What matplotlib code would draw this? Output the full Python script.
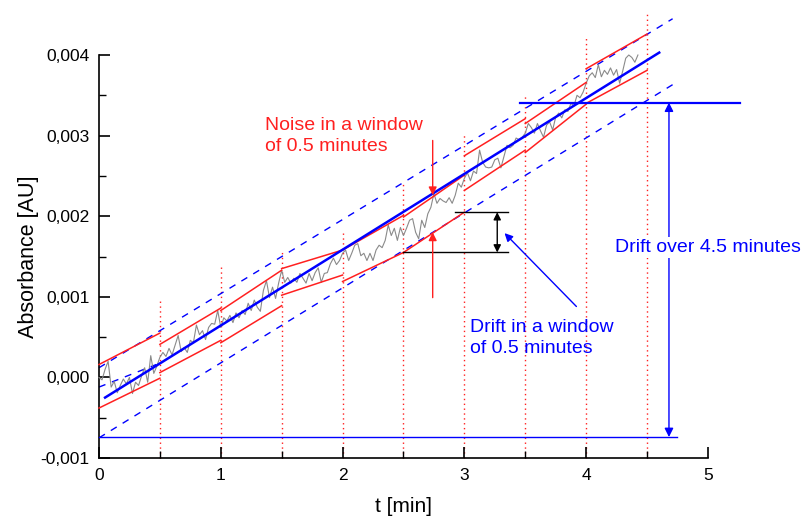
import numpy as np
import matplotlib
matplotlib.use("Agg")
import matplotlib.pyplot as plt
from matplotlib.ticker import MultipleLocator, FuncFormatter

plt.rcParams['font.family'] = ['Liberation Sans', 'DejaVu Sans']

# ---- signal (values in mAU, sampled every 0.025 min) ----
sample_step = 0.025
signal_mau = [
    0.00, -0.03, 0.10, 0.20, -0.12, -0.05, -0.19, -0.10, -0.02, -0.08,
    0.00, -0.20, -0.06, -0.10, 0.02, 0.12, -0.06, 0.27, 0.05, 0.14,
    0.25, 0.31, 0.26, 0.36, 0.28, 0.40, 0.52, 0.32, 0.37, 0.31,
    0.46, 0.43, 0.65, 0.53, 0.58, 0.47, 0.62, 0.67, 0.66, 0.83,
    0.62, 0.74, 0.70, 0.77, 0.68, 0.80, 0.74, 0.83, 0.78, 0.92,
    0.83, 0.96, 0.87, 0.82, 1.08, 1.20, 0.99, 1.12, 0.98, 1.17,
    1.33, 1.18, 1.24, 1.17, 1.23, 1.18, 1.29, 1.23, 1.17, 1.29,
    1.20, 1.30, 1.36, 1.18, 1.29, 1.30, 1.41, 1.48, 1.40, 1.45,
    1.54, 1.58, 1.45, 1.54, 1.64, 1.66, 1.51, 1.54, 1.45, 1.54,
    1.45, 1.58, 1.64, 1.61, 1.70, 1.89, 1.76, 1.85, 1.70, 1.86,
    1.76, 1.85, 1.95, 1.97, 1.80, 1.72, 1.95, 1.86, 2.03, 2.11,
    2.28, 2.16, 2.22, 2.19, 2.17, 2.23, 2.16, 2.26, 2.41, 2.36,
    2.47, 2.54, 2.44, 2.56, 2.53, 2.82, 2.67, 2.61, 2.60, 2.61,
    2.70, 2.72, 2.60, 2.74, 2.88, 2.85, 2.88, 2.97, 2.95, 2.98,
    3.03, 3.15, 3.10, 3.03, 3.15, 3.06, 2.98, 3.13, 3.17, 3.07,
    3.23, 3.28, 3.22, 3.32, 3.30, 3.40, 3.37, 3.50, 3.47, 3.54,
    3.65, 3.74, 3.78, 3.72, 3.88, 3.73, 3.81, 3.76, 3.84, 3.75,
    3.82, 3.65, 3.80, 3.96, 4.00, 3.97, 3.91, 4.00,
]

# overall linear fit (mAU)
fit_t = [0.05, 4.60]
fit_y = [-0.25, 4.03]

# dashed confidence band (mAU)
band_upper_t = [0.0, 4.71]
band_upper_y = [0.12, 4.45]
band_lower_t = [0.0, 4.74]
band_lower_y = [-0.75, 3.66]
band_short_t = [0.0, 0.47]
band_short_y = [-0.12, 0.16]

# 0.5-minute windows: envelope lines (mAU)
window_start = [0.0, 0.5, 1.0, 1.5, 2.0, 2.5, 3.0, 3.5, 4.0]
window_len = 0.5
env_upper_start = [0.16, 0.41, 0.83, 1.35, 1.58, 1.99, 2.75, 3.15, 3.83]
env_upper_end = [0.55, 0.86, 1.33, 1.58, 2.01, 2.51, 3.21, 3.66, 4.26]
env_lower_start = [-0.38, 0.06, 0.43, 1.02, 1.19, 1.55, 2.32, 2.79, 3.40]
env_lower_end = [-0.01, 0.46, 0.89, 1.27, 1.55, 2.05, 2.82, 3.39, 3.81]

# window boundary markers: time and top (mAU)
marker_t = [0.5, 1.0, 1.5, 2.0, 2.5, 3.0, 3.5, 4.0, 4.5]
marker_top = [0.95, 1.41, 1.55, 1.80, 2.44, 3.02, 3.52, 4.24, 4.53]

# drift over the whole run (mAU)
drift_top = 3.41
drift_bottom = -0.74
drift_top_t = [3.46, 5.26]
drift_bottom_t = [0.0, 4.75]
drift_arrow_t = 4.68

# drift in one window (mAU)
win_drift_low = 1.55
win_drift_high = 2.05
win_drift_low_t = [2.50, 3.36]
win_drift_high_t = [2.92, 3.36]
win_drift_arrow_t = 3.27

# noise markers (mAU)
noise_t = 2.74
noise_top = 2.26
noise_bottom = 1.80

S = 1e-3  # mAU -> AU
RED = '#ff2020'
BLUE = '#0000ff'

fig = plt.figure(figsize=(8.1, 5.19), dpi=100)
ax = fig.add_axes([0.1222, 0.1175, 0.7518, 0.7765])

t_signal = np.arange(len(signal_mau)) * sample_step
ax.plot(t_signal, np.array(signal_mau) * S, color='#8a8a8a', lw=0.8, zorder=3, clip_on=False)

# window markers
for t, top in zip(marker_t, marker_top):
    ax.plot([t, t], [-1.0 * S, top * S], color=RED, lw=1.0, ls=(0, (1, 2.5)), zorder=1, clip_on=False)

# envelopes
for w, us, ue, ls_, le in zip(window_start, env_upper_start, env_upper_end,
                              env_lower_start, env_lower_end):
    ax.plot([w, w + window_len], [us * S, ue * S], color=RED, lw=1.1, zorder=4, clip_on=False)
    ax.plot([w, w + window_len], [ls_ * S, le * S], color=RED, lw=1.1, zorder=4, clip_on=False)

# dashed band
for bt, by in ((band_upper_t, band_upper_y), (band_lower_t, band_lower_y),
               (band_short_t, band_short_y)):
    ax.plot(bt, np.array(by) * S, color=BLUE, lw=1.0, ls=(0, (5, 5)), zorder=2, clip_on=False)

# fit
ax.plot(fit_t, np.array(fit_y) * S, color=BLUE, lw=1.8, zorder=5, clip_on=False)

# drift over the whole run
ax.plot(drift_top_t, [drift_top * S] * 2, color=BLUE, lw=1.6, zorder=5, clip_on=False)
ax.plot(drift_bottom_t, [drift_bottom * S] * 2, color=BLUE, lw=1.0, zorder=5, clip_on=False)
ax.annotate('', xy=(drift_arrow_t, drift_top * S), xytext=(drift_arrow_t, drift_bottom * S),
            arrowprops=dict(arrowstyle='<|-|>', color=BLUE, lw=1.0, mutation_scale=13,
                            shrinkA=0, shrinkB=0), annotation_clip=False, zorder=6)
ax.text(5.0, 1.61 * S, 'Drift over 4.5 minutes', color=BLUE, fontsize=14,
        ha='center', va='center', zorder=7,
        bbox=dict(facecolor='white', edgecolor='none', pad=1.5), clip_on=False)

# drift in one window
ax.plot(win_drift_low_t, [win_drift_low * S] * 2, color='black', lw=1.0, zorder=5)
ax.plot(win_drift_high_t, [win_drift_high * S] * 2, color='black', lw=1.0, zorder=5)
ax.annotate('', xy=(win_drift_arrow_t, win_drift_high * S),
            xytext=(win_drift_arrow_t, win_drift_low * S),
            arrowprops=dict(arrowstyle='<|-|>', color='black', lw=1.0, mutation_scale=11,
                            shrinkA=0, shrinkB=0), zorder=6)
ax.annotate('', xy=(3.33, 1.79 * S), xytext=(3.92, 0.88 * S),
            arrowprops=dict(arrowstyle='-|>', color=BLUE, lw=1.0, mutation_scale=12,
                            shrinkA=0, shrinkB=0), zorder=6)
ax.text(3.05, 0.49 * S, 'Drift in a window\nof 0.5 minutes', color=BLUE, fontsize=14,
        ha='left', va='center', linespacing=1.3)

# noise
ax.annotate('', xy=(noise_t, noise_top * S), xytext=(noise_t, 2.94 * S),
            arrowprops=dict(arrowstyle='-|>', color=RED, lw=1.0, mutation_scale=12,
                            shrinkA=0, shrinkB=0), zorder=6)
ax.annotate('', xy=(noise_t, noise_bottom * S), xytext=(noise_t, 0.99 * S),
            arrowprops=dict(arrowstyle='-|>', color=RED, lw=1.0, mutation_scale=12,
                            shrinkA=0, shrinkB=0), zorder=6)
ax.text(1.36, 2.99 * S, 'Noise in a window\nof 0.5 minutes', color=RED, fontsize=14,
        ha='left', va='center', linespacing=1.3)

# axes
ax.set_xlim(0, 5)
ax.set_ylim(-0.001, 0.004)
for side in ('top', 'right'):
    ax.spines[side].set_visible(False)
for side in ('left', 'bottom'):
    ax.spines[side].set_linewidth(1.2)
ax.xaxis.set_major_locator(MultipleLocator(1))
ax.xaxis.set_minor_locator(MultipleLocator(0.5))
ax.yaxis.set_major_locator(MultipleLocator(0.001))
ax.yaxis.set_minor_locator(MultipleLocator(0.0005))
ax.tick_params(which='major', direction='in', length=8, width=1.2, labelsize=12.5, pad=7)
ax.tick_params(which='minor', direction='in', length=5, width=1.0)
ax.xaxis.set_major_formatter(FuncFormatter(lambda v, p: f'{v:.0f}'))
ax.yaxis.set_major_formatter(FuncFormatter(lambda v, p: f'{v:.3f}'.replace('.', ',').replace('-0,000', '0,000')))
ax.set_xlabel('t [min]', fontsize=15, labelpad=10)
ax.set_ylabel('Absorbance [AU]', fontsize=15.5, labelpad=1)

fig.savefig('out.png', dpi=100)
